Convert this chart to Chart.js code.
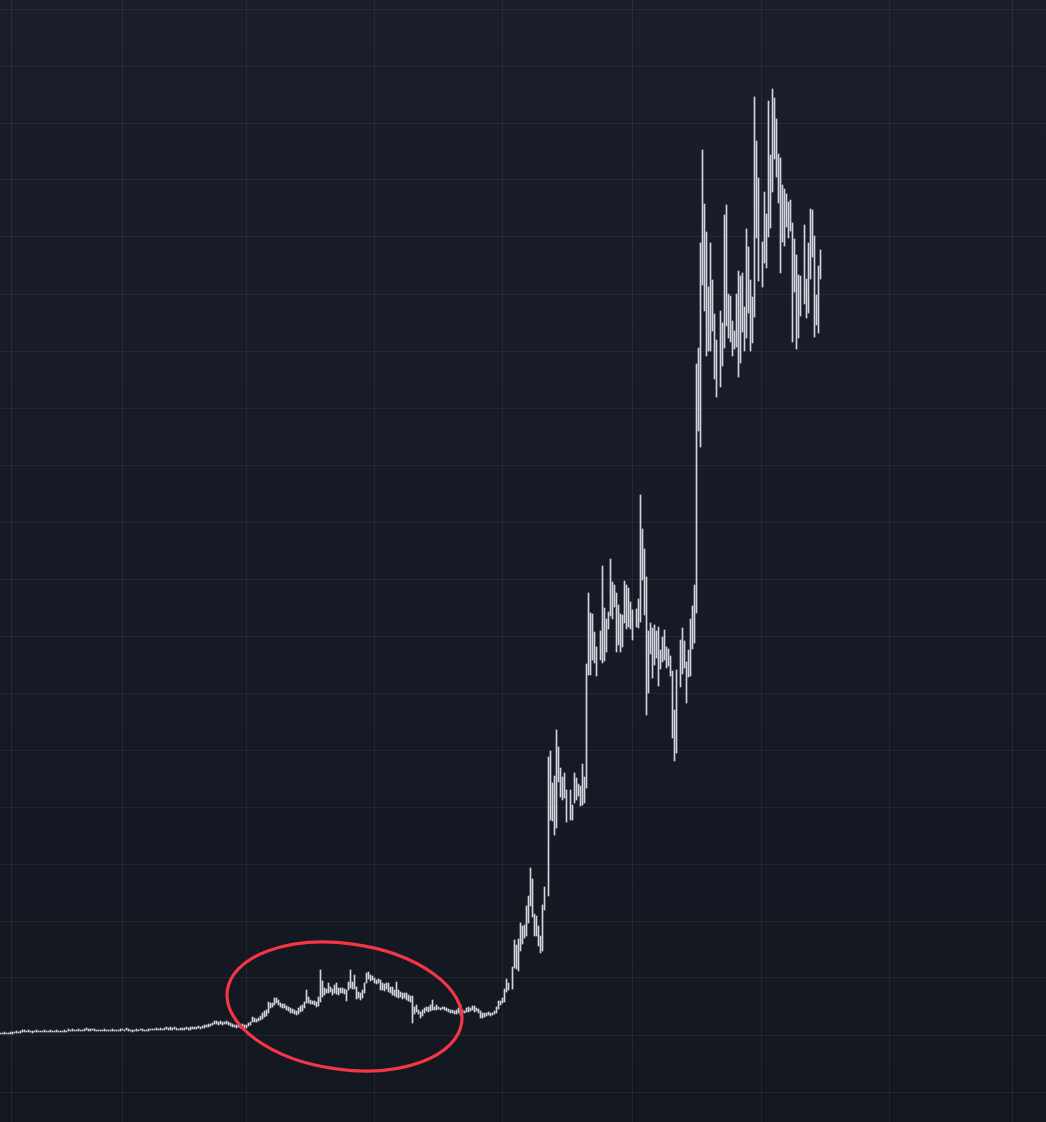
<!DOCTYPE html>
<html>
<head>
<meta charset="utf-8">
<script src="https://cdn.jsdelivr.net/npm/chart.js@4/dist/chart.umd.min.js"></script>
<style>
  html, body { margin: 0; padding: 0; background: #171a24; }
  canvas { display: block; }
</style>
</head>
<body>
<canvas id="chart" width="1046" height="1122"></canvas>
<script>
// ---- Data: high-low range bars, one per period (index = period number) ----
const lows = [
  // flat start
  58,58,58,58,58,58, 58,59,59,59,59, 60,60,60,60,60,59,
  60,60,60,60,60,60,60,60,60,60,60,60,60,60,60,60,60,
  61,61,61,61,61,61,61, 61,61,62,61,61,62,61,61,61,61,
  61,61,61,61,61,61,61,61,61,61,62,61,62,61,61,60,61,61,61,62,61,61,61,61,62,62,
  62,62,62,62,62,62,63, 62,62,62,63,62,62,62, 62,62,63,62,62,63,63,63,64,63,
  64,64,65, 65,66,67, 68,68,67,68,
  // first bump (circled)
  67,68,68,67,66,65,65,64,65,64, 65,64,64,66,67,70,70,70,71,72,
  73,75,76,79,84,85,87,89,87,85, 84,84,82,81,79,79,78,77,78,80,
  81,84,89,89,88,88,87,85,86,90, 95,97,99,99,100,97,99,98,97,99,
  99,98,91,102,104,103,103,93,94,92, 94,99,109,113,111,112,109,108,109,102,
  102,101,103,100,99,97,96,95,94,95, 93,94,92,91,90,69,78,80,78,74,
  76,79,81,80,81,82,82,82,83,82, 83,82,81,80,79,79,78,78,79,77,
  79,79,80,80,81,82,80,81,79,
  // first leg up
  74,74,75,76,77,76,77,78,79,83, 87,89,90,100,102,null,103,124,123,121,
  141,148,154,156,169,186,175,156,156,146, 139,141,182,null,196,
  272,271,257,264,310,295,292,294,270,null,272,272,289,292,296,286,287,289,304,
  // second plateau
  417,417,432,429,416,null,432,429,431,440, 463,476,473,485,440,447,440,445,469,463,
  465,463,452,null,465,464,470,512,477,377, 399,438,414,427,434,406,423,430,432,424,
  426,416,354,331,339,null,405,418,424,389, 415,416,443,449,479,
  // top range
  661,645,807,781,736,741,741,761,713,695, null,705,726,744,766,754,750,736,743,745,
  715,729,760,741,754,779,741,749,775,854, 811,null,805,829,824,855,864,900,933,915,
  889,819,850,846,865,854,861,750,800,743, 754,776,null,788,774,779,813,835,755,767,
  759,813
];
const highs = [
  59,59,60,59,59,60, 60,60,61,60,61, 62,62,61,62,61,61,
  61,62,61,61,61,62,61,61,62,61,61,62,61,61,61,62,61,
  63,62,63,62,62,63,62, 62,63,64,63,63,63,63,62,62,62,
  62,63,62,62,62,63,62,62,62,63,63,62,64,63,62,62,62,63,62,63,63,62,62,63,63,63,
  63,64,63,64,63,64,65, 64,65,64,65,64,63,64, 64,64,65,64,65,65,65,65,66,65,
  66,67,67, 68,68,69, 71,71,70,71,
  70,70,71,70,69,68,67,67,67,67, 68,67,67,69,70,75,74,73,74,76,
  79,81,82,90,89,89,94,94,92,89, 88,88,86,85,84,83,82,81,84,86,
  87,90,102,95,92,91,91,90,95,122, 111,104,103,109,105,103,107,109,104,104,
  104,103,102,110,122,110,117,105,100,99, 102,109,119,120,117,116,114,112,113,112,
  109,108,109,109,105,105,102,110,102,100, 99,99,99,97,96,96,85,87,82,80,
  82,84,85,85,87,92,85,87,85,84, 85,85,84,83,82,82,81,82,84,87,
  82,81,84,85,84,86,86,84,83,
  81,79,79,79,80,79,79,81,85,91, 91,94,103,113,109,null,125,152,147,153,
  169,166,167,186,196,224,213,178,176,166, 156,187,205,null,335,
  341,309,316,362,345,324,315,319,302,null,302,287,319,314,308,306,328,315,428,
  499,479,478,460,445,null,461,526,484,473, 480,533,510,507,499,487,478,477,511,507,
  504,490,482,null,483,493,597,563,543,515, 461,469,464,467,461,465,442,455,462,445,
  443,436,421,382,422,null,452,464,451,430, 442,473,486,507,728,
  744,849,942,888,860,805,849,812,778,752, null,781,769,877,887,798,796,771,761,798,
  821,816,819,785,863,845,812,795,995,951, 914,null,850,900,878,991,937,1003,994,973,
  938,934,907,903,898,890,892,869,853,837, 817,816,null,867,813,849,883,882,856,797,
  826,842
];
// grid positions (no labels are shown on the chart)
const priceGridTicks = [0,57,114,171,228,285,342,399,456,513,570,627,684,741,798,855,912,969,1026,1083];
const timeGridTicks = [5.5, 61, 123, 187, 251, 316, 380.5, 444.5, 506];
// highlighted region (ellipse) in data units
const highlight = { x: 172, y: 85.5, rx: 59.15, ry: 63, angleDeg: 7.8 };

const bars = [];
lows.forEach((lo, i) => {
  if (lo !== null && highs[i] !== null) bars.push({ x: i, y: [lo, highs[i]] });
});

const GRID = 'rgba(255,255,255,0.06)';

const bgPlugin = {
  id: 'bg',
  beforeDraw(chart) {
    const { ctx, width, height } = chart;
    const g = ctx.createLinearGradient(0, 0, 0, height);
    g.addColorStop(0, '#1b1e2a');
    g.addColorStop(1, '#131720');
    ctx.save();
    ctx.fillStyle = g;
    ctx.fillRect(0, 0, width, height);
    ctx.restore();
  }
};

const ellipsePlugin = {
  id: 'ellipse',
  afterDatasetsDraw(chart) {
    const xs = chart.scales.x, ys = chart.scales.y, ctx = chart.ctx;
    const cx = xs.getPixelForValue(highlight.x);
    const cy = ys.getPixelForValue(highlight.y);
    const rx = Math.abs(xs.getPixelForValue(highlight.x + highlight.rx) - cx);
    const ry = Math.abs(ys.getPixelForValue(highlight.y + highlight.ry) - cy);
    ctx.save();
    ctx.beginPath();
    ctx.ellipse(cx, cy, rx, ry, highlight.angleDeg * Math.PI / 180, 0, Math.PI * 2);
    ctx.strokeStyle = '#f23645';
    ctx.lineWidth = 3.2;
    ctx.stroke();
    ctx.restore();
  }
};

new Chart(document.getElementById('chart'), {
  type: 'bar',
  data: {
    datasets: [{
      data: bars,
      backgroundColor: '#d1d4dc',
      borderWidth: 0,
      barThickness: 1
    }]
  },
  options: {
    responsive: false,
    animation: false,
    layout: { padding: 0 },
    plugins: { legend: { display: false }, tooltip: { enabled: false } },
    scales: {
      x: {
        type: 'linear',
        min: -0.25,
        max: 522.75,
        offset: false,
        border: { display: false },
        ticks: { display: false },
        grid: { color: GRID, offset: false, drawTicks: false, lineWidth: 1 },
        afterBuildTicks: s => { s.ticks = timeGridTicks.map(v => ({ value: v })); }
      },
      y: {
        type: 'linear',
        min: -30,
        max: 1092,
        border: { display: false },
        ticks: { display: false },
        grid: { color: GRID, drawTicks: false, lineWidth: 1 },
        afterBuildTicks: s => { s.ticks = priceGridTicks.map(v => ({ value: v })); }
      }
    }
  },
  plugins: [bgPlugin, ellipsePlugin]
});
</script>
</body>
</html>
